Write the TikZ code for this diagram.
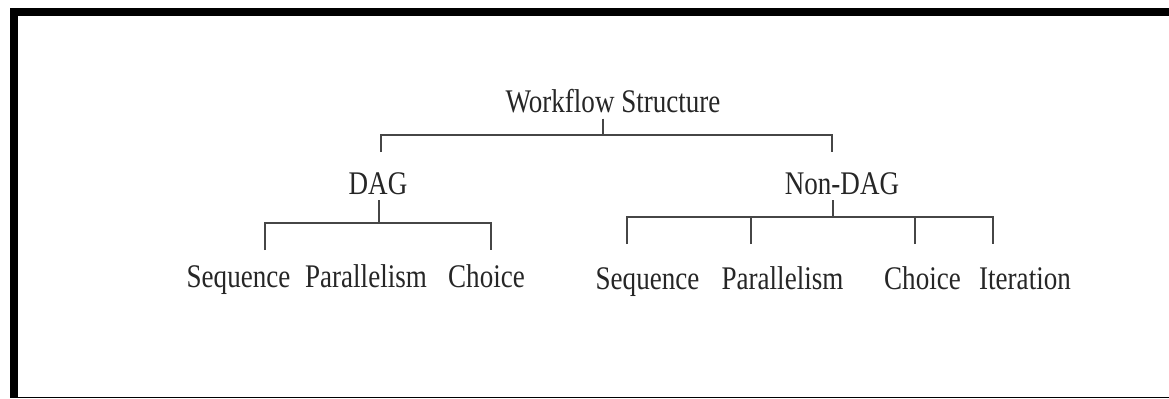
\documentclass[tikz,border=0pt]{standalone}
\usepackage{fontspec}
\setmainfont[FakeStretch=0.82]{Liberation Serif}
\definecolor{txtgray}{RGB}{38,38,38}
\definecolor{linegray}{RGB}{70,70,70}
\begin{document}
\begin{tikzpicture}[x=0.5pt,y=-0.5pt,
  lbl/.style={anchor=base, inner sep=0pt, outer sep=3pt, text=txtgray,
              font=\fontsize{16.5}{18}\selectfont},
  link/.style={draw=linegray, line width=0.8pt}]
\useasboundingbox (0,0) rectangle (1169,398);
% frame
\fill[black] (10,8) rectangle (1169,16);
\fill[black] (10,8) rectangle (18,398);
\fill[black] (10,396.6) rectangle (1169,398);

% labels
\node[lbl] (ws)   at (613,112)   {Workflow Structure};
\node[lbl] (dag)  at (378,194)   {DAG};
\node[lbl] (ndag) at (842,194)   {Non-DAG};
\node[lbl] (dseq) at (238.5,287) {Sequence};
\node[lbl] (dpar) at (366,287)   {Parallelism};
\node[lbl] (dcho) at (486.5,287) {Choice};
\node[lbl] (nseq) at (647.5,289) {Sequence};
\node[lbl] (npar) at (782.5,289) {Parallelism};
\node[lbl] (ncho) at (922.5,289) {Choice};
\node[lbl] (nite) at (1025,289)  {Iteration};

% bracket junctions and leg ends
\coordinate (j0) at (603,135);
\coordinate (j1) at (379,223);
\coordinate (j2) at (833,217);
\coordinate (tl1) at (381,152);
\coordinate (tl2) at (832,152);
\coordinate (dl1) at (265,250);
\coordinate (dl3) at (491,250);
\coordinate (nl1) at (627,244);
\coordinate (nl2) at (751,244);
\coordinate (nl3) at (915,244);
\coordinate (nl4) at (993,244);

% top level
\draw[link] (ws.south -| j0) -- (j0);
\draw[link] (tl1) |- (j0) -| (tl2);
% DAG branch
\draw[link] (dag.south -| j1) -- (j1);
\draw[link] (dl1) |- (j1) -| (dl3);
% Non-DAG branch
\draw[link] (ndag.south -| j2) -- (j2);
\draw[link] (nl1) |- (j2) -| (nl4);
\draw[link] (nl2) -- (nl2 |- j2);
\draw[link] (nl3) -- (nl3 |- j2);
\end{tikzpicture}
\end{document}
